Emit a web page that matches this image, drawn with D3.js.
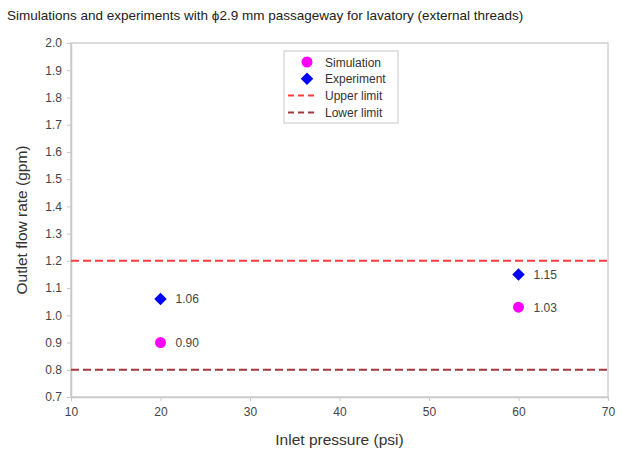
<!DOCTYPE html>
<html>
<head>
<meta charset="utf-8">
<script src="https://cdn.jsdelivr.net/npm/d3@7"></script>
<style>
body { margin: 0; background: #fff; }
text { font-family: "Liberation Sans", Arial, sans-serif; }
</style>
</head>
<body>
<div id="chart"></div>
<script>
var width = 644;
var height = 456;

// data
var simPressure = [20, 60];
var simFlow = [0.90, 1.03];
var expPressure = [20, 60];
var expFlow = [1.06, 1.15];
var upperLimit = 1.2;
var lowerLimit = 0.8;
var xTicks = [10, 20, 30, 40, 50, 60, 70];
var yTicks = [0.7, 0.8, 0.9, 1.0, 1.1, 1.2, 1.3, 1.4, 1.5, 1.6, 1.7, 1.8, 1.9, 2.0];

var margin = {top: 43, right: 36, bottom: 59, left: 71};

var svg = d3.select("#chart").append("svg")
    .attr("width", width)
    .attr("height", height);

var x = d3.scaleLinear().domain([10, 70]).range([margin.left, width - margin.right]);
var y = d3.scaleLinear().domain([0.7, 2.0]).range([height - margin.bottom, margin.top]);

// title
svg.append("text")
    .attr("x", 7)
    .attr("y", 20)
    .attr("font-size", 13.5)
    .attr("fill", "#222")
    .text("Simulations and experiments with \u03D52.9 mm passageway for lavatory (external threads)");

// frame
svg.append("rect")
    .attr("x", x(10))
    .attr("y", y(2.0))
    .attr("width", x(70) - x(10))
    .attr("height", y(0.7) - y(2.0))
    .attr("fill", "none")
    .attr("stroke", "#d0d0d0")
    .attr("stroke-width", 1.5);

// axes
var xAxis = svg.append("g")
    .attr("transform", "translate(0," + y(0.7) + ")")
    .call(d3.axisBottom(x).tickValues(xTicks).tickSize(4).tickSizeOuter(0).tickPadding(6));
var yAxis = svg.append("g")
    .attr("transform", "translate(" + x(10) + ",0)")
    .call(d3.axisLeft(y).tickValues(yTicks).tickFormat(d3.format(".1f")).tickSize(4).tickSizeOuter(0).tickPadding(5));

[xAxis, yAxis].forEach(function (a) {
    a.select(".domain").attr("stroke", "#c8c8c8").attr("stroke-width", 1.5);
    a.selectAll(".tick line").attr("stroke", "#c8c8c8");
    a.selectAll("text")
        .attr("font-family", "Liberation Sans, Arial, sans-serif")
        .attr("font-size", 12)
        .attr("fill", "#444");
});

// axis titles
svg.append("text")
    .attr("x", (x(10) + x(70)) / 2)
    .attr("y", 445)
    .attr("text-anchor", "middle")
    .attr("font-size", 15.5)
    .attr("fill", "#333")
    .text("Inlet pressure (psi)");

svg.append("text")
    .attr("transform", "translate(27," + (y(0.7) + y(2.0)) / 2 + ") rotate(-90)")
    .attr("text-anchor", "middle")
    .attr("font-size", 15.5)
    .attr("fill", "#333")
    .text("Outlet flow rate (gpm)");

// limit lines
svg.append("line")
    .attr("x1", x(10)).attr("x2", x(70))
    .attr("y1", y(upperLimit)).attr("y2", y(upperLimit))
    .attr("stroke", "#ff3b3b")
    .attr("stroke-width", 2)
    .attr("stroke-dasharray", "8,4");
svg.append("line")
    .attr("x1", x(10)).attr("x2", x(70))
    .attr("y1", y(lowerLimit)).attr("y2", y(lowerLimit))
    .attr("stroke", "#a5383e")
    .attr("stroke-width", 2)
    .attr("stroke-dasharray", "8,4");

var diamond = d3.symbol().type(d3.symbolDiamond2).size(100);

// simulation points
svg.selectAll(".sim")
    .data(simPressure)
    .join("circle")
    .attr("class", "sim")
    .attr("cx", d => x(d))
    .attr("cy", (d, i) => y(simFlow[i]))
    .attr("r", 5.5)
    .attr("fill", "#ff00ff");

svg.selectAll(".simlab")
    .data(simPressure)
    .join("text")
    .attr("class", "simlab")
    .attr("x", d => x(d) + 15)
    .attr("y", (d, i) => y(simFlow[i]) + 4.5)
    .attr("font-size", 12)
    .attr("fill", "#444")
    .text((d, i) => simFlow[i].toFixed(2));

// experiment points
svg.selectAll(".exp")
    .data(expPressure)
    .join("path")
    .attr("class", "exp")
    .attr("d", diamond)
    .attr("transform", (d, i) => "translate(" + x(d) + "," + y(expFlow[i]) + ")")
    .attr("fill", "#0000ff");

svg.selectAll(".explab")
    .data(expPressure)
    .join("text")
    .attr("class", "explab")
    .attr("x", d => x(d) + 15)
    .attr("y", (d, i) => y(expFlow[i]) + 4.5)
    .attr("font-size", 12)
    .attr("fill", "#444")
    .text((d, i) => expFlow[i].toFixed(2));

// legend
var legend = svg.append("g").attr("transform", "translate(284,51)");
legend.append("rect")
    .attr("width", 114)
    .attr("height", 72)
    .attr("fill", "#fff")
    .attr("stroke", "#c8c8c8");

var items = ["Simulation", "Experiment", "Upper limit", "Lower limit"];
var li = legend.selectAll(".li")
    .data(items)
    .join("g")
    .attr("class", "li")
    .attr("transform", (d, i) => "translate(0," + (11 + i * 16.8) + ")");

li.append("text")
    .attr("x", 41)
    .attr("y", 4.5)
    .attr("font-size", 12)
    .attr("fill", "#333")
    .text(d => d);

li.filter((d, i) => i == 0).append("circle")
    .attr("cx", 23).attr("r", 5.5).attr("fill", "#ff00ff");
li.filter((d, i) => i == 1).append("path")
    .attr("d", diamond).attr("transform", "translate(23,0)").attr("fill", "#0000ff");
li.filter((d, i) => i >= 2).append("line")
    .attr("x1", 4).attr("x2", 34)
    .attr("stroke", (d, i) => i == 0 ? "#ff3b3b" : "#a5383e")
    .attr("stroke-width", 2)
    .attr("stroke-dasharray", "6,4");
</script>
</body>
</html>
